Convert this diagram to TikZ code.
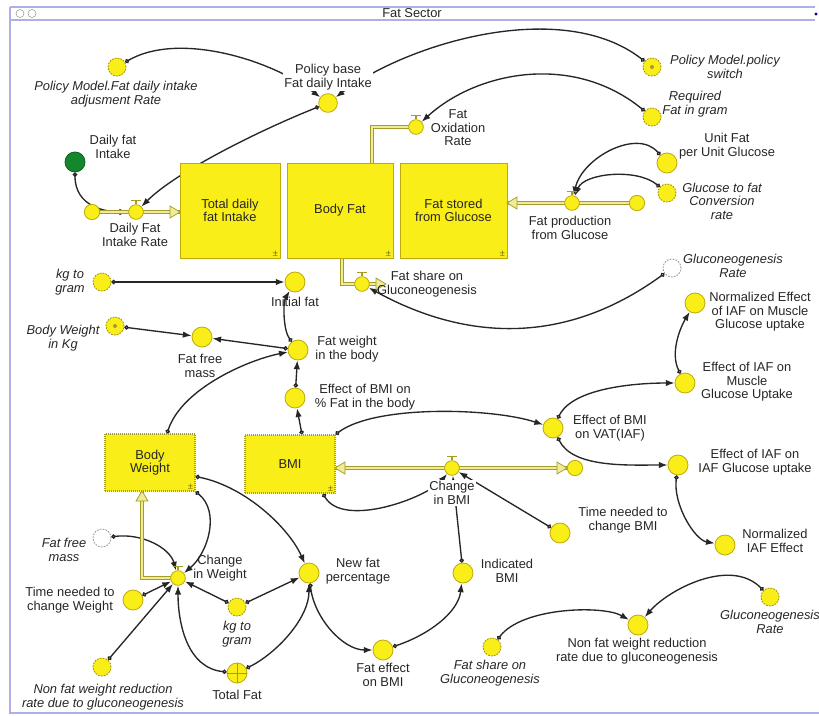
\documentclass[tikz,border=0pt]{standalone}
\usepackage{fontspec}
\setmainfont{Liberation Sans}
\usetikzlibrary{positioning,arrows.meta,calc}

\definecolor{convfill}{RGB}{250,238,25}
\definecolor{convline}{RGB}{190,170,10}
\definecolor{pipeline}{RGB}{165,155,40}
\definecolor{pipefill}{RGB}{240,235,150}
\definecolor{frameline}{RGB}{175,175,232}
\definecolor{greenflow}{RGB}{20,135,45}

\newcommand\diafont{\fontsize{11}{11.6}\selectfont}
\pgfdeclarelayer{background}
\pgfsetlayers{background,main}

\tikzset{
  conv/.style={circle, draw=convline, fill=convfill, line width=0.7pt,
    minimum size=6mm, inner sep=0pt},
  ghost/.style={conv, minimum size=5.4mm, draw=convline!85!black,
    dash pattern=on 1.5pt off 1pt},
  ghostw/.style={ghost, fill=white, draw=black!40},
  valve/.style={conv, minimum size=4.4mm},
  cloudsrc/.style={conv, minimum size=4.6mm},
  stockbox/.style={draw=convline, fill=convfill, line width=0.7pt, align=center,
    inner sep=0pt, font=\diafont, text=black!85,
    label={[font=\tiny, inner sep=1.5pt, anchor=south east]south east:$\pm$}},
  stockdot/.style={stockbox, draw=pipeline, densely dotted, line width=1pt},
  pipe/.style={draw=pipeline, line width=0.8pt, double=pipefill, double distance=2pt},
  link/.style={{Circle[open,length=3.8pt,width=3.8pt]}-{Latex[length=7.5pt,width=5.5pt]},
    line width=1.15pt, draw=black!85},
  lbl/.style={align=center, inner sep=1pt, text=black!85, font=\diafont},
  lblm/.style={lbl, fill=white},
  ilbl/.style={lbl, font=\diafont\itshape},
  valvetop/.style={draw=pipeline, line width=1.2pt}
}
\newcommand\pipetip[2]{%
  \draw[draw=pipeline, fill=pipefill, line width=0.6pt, shift={(#1)}, rotate=#2]
    (0,-6) -- (10,0) -- (0,6) -- cycle;}

\begin{document}
\begin{tikzpicture}[x=0.3mm, y=-0.3mm]
  \useasboundingbox (0,0) rectangle (819,715);

  % sector window
  \draw[frameline, line width=1pt] (10,7) -- (815,7) (10,20) -- (815,20);
  \draw[frameline, line width=1.5pt] (10,7) -- (10,713) -- (819,713);
  \node[lbl] (title) at (412,13.5) {Fat Sector};
  \node[circle, draw=black!45, minimum size=2.4mm, inner sep=0pt] (btnA) at (20,13.5) {};
  \node[circle, draw=black!45, minimum size=2.4mm, inner sep=0pt] (btnB) at (32,13.5) {};
  \fill[blue!60!black] (816,14) circle (0.5mm);

  % stocks
  \node[stockbox, minimum width=30mm, minimum height=28.5mm] (stTotal) at (230,210.5) {Total daily\\fat Intake};
  \node[stockbox, minimum width=31.8mm, minimum height=28.5mm] (stBodyFat) at (340,210.5) {Body Fat};
  \node[stockbox, minimum width=32.1mm, minimum height=28.5mm] (stGluc) at (453.5,210.5) {Fat stored\\from Glucose};
  \node[stockdot, minimum width=27mm, minimum height=17.1mm] (bw) at (150,462.5) {Body\\Weight};
  \node[stockdot, minimum width=27mm, minimum height=17.4mm] (bmi) at (290,464) {BMI};

  % valves and clouds
  \node[valve] (vDaily) at (136,212) {};
  \node[valve] (vOx) at (416,127) {};
  \node[valve] (vProd) at (572,203) {};
  \node[valve] (vShare) at (362,284) {};
  \node[valve] (vBMI) at (452,468) {};
  \node[valve] (vWeight) at (178,578) {};
  \node[cloudsrc] (cDaily) at (92,212) {};
  \node[cloudsrc] (cProd) at (637,203) {};
  \node[cloudsrc] (cBMI) at (575,468) {};

  % converters
  \node[ghost] (pmAdj) at (117,67) {};
  \node[conv, minimum size=5.6mm] (pb) at (328,103) {};
  \node[ghost] (pmSw) at (652,67) {};
  \node[ghost] (reqFat) at (652,117) {};
  \node[conv] (unitFat) at (667,163) {};
  \node[ghost] (glucFat) at (667,193) {};
  \node[conv, fill=greenflow, draw=greenflow!70!black] (dailyFat) at (75,162) {};
  \node[ghostw] (glucRateA) at (672,268) {};
  \node[ghost] (kgA) at (102,282) {};
  \node[conv] (initFat) at (295,282) {};
  \node[ghost] (bwKg) at (115,326) {};
  \node[conv] (fatFree) at (202,337) {};
  \node[conv] (fatW) at (298,350) {};
  \node[conv] (effPct) at (295,398) {};
  \node[conv] (normMuscle) at (695,303) {};
  \node[conv] (effMuscle) at (685,383) {};
  \node[conv] (effVAT) at (553,428) {};
  \node[conv] (effIAF) at (678,465) {};
  \node[conv] (timeBMI) at (560,533) {};
  \node[conv] (normIAF) at (725,545) {};
  \node[ghostw] (fatFreeG) at (102,538) {};
  \node[conv] (timeW) at (133,600) {};
  \node[conv] (newFat) at (309,573) {};
  \node[ghost] (kgB) at (237,607) {};
  \node[conv] (indBMI) at (463,573) {};
  \node[ghost] (nonFatG) at (102,667) {};
  \node[conv] (totalFat) at (237,673) {};
  \node[conv] (fatEff) at (383,650) {};
  \node[ghost] (fatShareG) at (492,647) {};
  \node[conv] (nonFat) at (638,625) {};
  \node[ghost] (glucRateB) at (770,597) {};

  \fill[pipeline] (pmSw) circle (0.6mm);
  \fill[pipeline] (bwKg) circle (0.6mm);
  \draw[pipeline, line width=0.6pt] (totalFat.north) -- (totalFat.south)
    (totalFat.west) -- (totalFat.east);

  \begin{pgfonlayer}{background}
    % connectors
    \draw[link] (pmAdj) .. controls +(60,-35) and +(-60,-45) .. (pb);
    \draw[link] (pmSw) .. controls +(-90,-70) and +(80,-60) .. (pb);
    \draw[link] (pb) .. controls +(-70,28) and +(40,-40) .. (vDaily);
    \draw[link] (reqFat) .. controls +(-80,-65) and +(60,-55) .. (vOx);
    \draw[link] (unitFat) .. controls +(-30,-35) and +(10,-45) .. (vProd);
    \draw[link] (glucFat) .. controls +(-30,-25) and +(12,-30) .. (vProd);
    \draw[link] (dailyFat) .. controls +(0,45) and +(-30,0) .. (vDaily);
    \draw[link] (glucRateA) .. controls +(-110,80) and +(100,55) .. (vShare);
    \draw[link] (kgA) -- (initFat);
    \draw[link] (fatW) .. controls +(-15,-20) and +(-12,20) .. (initFat);
    \draw[link] (bwKg) -- (fatFree);
    \draw[link] (fatW) -- (fatFree);
    \draw[link] ($(bw.north)+(17,0)$) .. controls +(15,-45) and +(-50,10) .. (fatW);
    \draw[link] (effPct) -- (fatW);
    \draw[link] ($(bmi.north)+(12,0)$) -- (effPct);
    \draw[link] (bmi.north east) .. controls +(40,-30) and +(-60,-20) .. (effVAT);
    \draw[link] (effVAT) .. controls +(20,-40) and +(-50,0) .. (effMuscle);
    \draw[link] (effVAT) .. controls +(20,40) and +(-50,0) .. (effIAF);
    \draw[link] (effMuscle) .. controls +(-15,-30) and +(-15,25) .. (normMuscle);
    \draw[link] (effIAF) .. controls +(-5,40) and +(-30,-5) .. (normIAF);
    \draw[link] (timeBMI) -- (vBMI);
    \draw[link] (indBMI) -- (vBMI);
    \draw[link] ($(bmi.south)+(33,0)$) .. controls +(20,35) and +(-25,30) .. (vBMI);
    \draw[link] ($(bw.east)+(0,14)$) .. controls +(50,10) and +(-20,-45) .. (newFat);
    \draw[link] (bw.south east) .. controls +(25,20) and +(30,-25) .. (vWeight);
    \draw[link] (fatFreeG) .. controls +(40,-5) and +(-8,-30) .. (vWeight);
    \draw[link] (timeW) -- (vWeight);
    \draw[link] (nonFatG) -- (vWeight);
    \draw[link] (kgB) -- (vWeight);
    \draw[link] (kgB) -- (newFat);
    \draw[link] (totalFat) .. controls +(-50,-5) and +(0,45) .. (vWeight);
    \draw[link] (totalFat) .. controls +(40,-20) and +(0,45) .. (newFat);
    \draw[link] (newFat) .. controls +(5,45) and +(-40,0) .. (fatEff);
    \draw[link] (fatEff) .. controls +(45,-15) and +(-5,40) .. (indBMI);
    \draw[link] (fatShareG) .. controls +(30,-40) and +(-35,-20) .. (nonFat);
    \draw[link] (glucRateB) .. controls +(-40,-40) and +(30,-35) .. (nonFat);

    % flows
    \draw[pipe] (cDaily.center) -- (stTotal.west |- cDaily.center);
    \draw[pipe] ($(stBodyFat.north)+(32,0)$) |- (vOx.center);
    \draw[pipe] ($(stBodyFat.south)+(2,0)$) |- (vShare.center) -- (380,284);
    \draw[pipe] (cProd.center) -- (stGluc.east |- cProd.center);
    \draw[pipe] (bmi.east |- cBMI.center) -- (cBMI.center);
    \draw[pipe] (vWeight.center) -| ($(bw.south)+(-8,0)$);
  \end{pgfonlayer}

  \pipetip{170,212}{0}
  \pipetip{517,203}{180}
  \pipetip{345,468}{180}
  \pipetip{557,468}{0}
  \pipetip{142,501}{90}
  \pipetip{376,284}{0}
  \foreach \v in {vDaily,vOx,vProd,vShare,vBMI,vWeight}
    \draw[valvetop] (\v.north) -- ++(0,-4) ++(-5,0) -- ++(10,0);

  % labels
  \node[ilbl] (lPmAdj) at (116,94) {Policy Model.Fat daily intake\\adjusment Rate};
  \node[lblm] (lPb) at (328,77) {Policy base\\Fat daily Intake};
  \node[ilbl] (lPmSw) at (725,67) {Policy Model.policy\\switch};
  \node[ilbl] (lReq) at (695,104) {Required\\Fat in gram};
  \node[lbl] (lOx) at (458,128) {Fat\\Oxidation\\Rate};
  \node[lbl] (lUnit) at (727,146) {Unit Fat\\per Unit Glucose};
  \node[ilbl] (lGluc) at (722,201) {Glucose to fat\\Conversion\\rate};
  \node[lbl] (lDaily) at (113,147) {Daily fat\\Intake};
  \node[lbl] (lDailyRate) at (135,235) {Daily Fat\\Intake Rate};
  \node[lbl] (lProd) at (570,228) {Fat production\\from Glucose};
  \node[lbl] (lShare) at (427,284) {Fat share on\\Gluconeogenesis};
  \node[ilbl] (lGlucA) at (733,266) {Gluconeogenesis\\Rate};
  \node[ilbl] (lKgA) at (70,282) {kg to\\gram};
  \node[lbl] (lInit) at (295,302) {Initial fat};
  \node[ilbl] (lBwKg) at (63,338) {Body Weight\\in Kg};
  \node[lbl] (lFatFree) at (200,366) {Fat free\\mass};
  \node[lbl] (lFatW) at (347,349) {Fat weight\\in the body};
  \node[lbl] (lEffPct) at (365,397) {Effect of BMI on\\\% Fat in the body};
  \node[lbl] (lNormMuscle) at (760,312) {Normalized Effect\\of IAF on Muscle\\Glucose uptake};
  \node[lbl] (lEffMuscle) at (747,382) {Effect of IAF on\\Muscle\\Glucose Uptake};
  \node[lbl] (lEffVAT) at (610,428) {Effect of BMI\\on VAT(IAF)};
  \node[lbl] (lEffIAF) at (755,462) {Effect of IAF on\\IAF Glucose uptake};
  \node[lblm] (lChBMI) at (452,493) {Change\\in BMI};
  \node[lbl] (lTimeBMI) at (623,520) {Time needed to\\change BMI};
  \node[lbl] (lNormIAF) at (775,541) {Normalized\\IAF Effect};
  \node[ilbl] (lFatFreeG) at (64,550) {Fat free\\mass};
  \node[lbl] (lChW) at (220,568) {Change\\in Weight};
  \node[lbl] (lTimeW) at (70,600) {Time needed to\\change Weight};
  \node[lbl] (lNewFat) at (358,571) {New fat\\percentage};
  \node[ilbl] (lKgB) at (237,634) {kg to\\gram};
  \node[lbl] (lInd) at (507,571) {Indicated\\BMI};
  \node[ilbl] (lNonFatG) at (103,697) {Non fat weight reduction\\rate due to gluconeogenesis};
  \node[lbl] (lTotal) at (237,695) {Total Fat};
  \node[lbl] (lFatEff) at (383,675) {Fat effect\\on BMI};
  \node[ilbl] (lFatShareG) at (490,673) {Fat share on\\Gluconeogenesis};
  \node[lbl] (lNonFat) at (637,651) {Non fat weight reduction\\rate due to gluconeogenesis};
  \node[ilbl] (lGlucB) at (770,622) {Gluconeogenesis\\Rate};
\end{tikzpicture}
\end{document}
